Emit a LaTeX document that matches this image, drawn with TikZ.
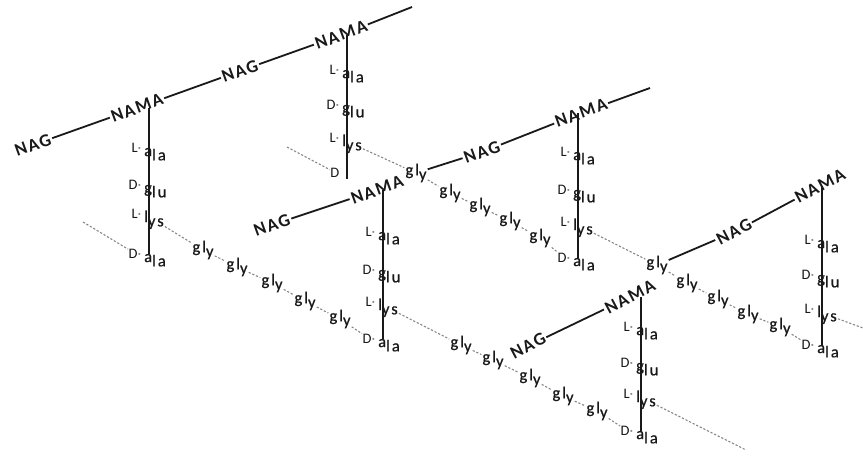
\documentclass[tikz,border=0pt]{standalone}
\usepackage{fontspec}
\setmainfont{Carlito}
\newfontfamily\sugarfam{Carlito}[LetterSpace=9]
\newfontfamily\resfam{Carlito}[LetterSpace=12, FakeBold=0.8]
\usepackage{tikz}
\definecolor{ink}{RGB}{25,25,25}
\definecolor{bridgegray}{RGB}{135,135,135}
\newcommand{\lowr}[1]{\raisebox{-0.55ex}{#1}}
\newcommand{\ala}{a\lowr{la}}
\newcommand{\glu}{g\lowr{lu}}
\newcommand{\lys}{l\lowr{ys}}
\newcommand{\gly}{gl\lowr{y}}
\newcommand{\mdot}{{\color{bridgegray}·}}
\tikzset{
  sugar/.style={font=\fontsize{18}{18}\sugarfam\bfseries, text=ink, inner sep=1.5pt},
  sugarab/.style={sugar, rotate=20},
  sugarc/.style={sugar, rotate=28},
  res/.style={font=\fontsize{16.5}{16.5}\resfam, text=ink, inner sep=1pt, anchor=base west},
  pre/.style={font=\fontsize{14.5}{14.5}\selectfont, text=ink, inner sep=0.5pt, anchor=base east},
  glyn/.style={font=\fontsize{16.5}{16.5}\resfam, text=ink, inner sep=1pt},
  glycan/.style={line width=1.8pt, ink},
  stemline/.style={line width=1.3pt, ink},
  bridge/.style={line width=1.1pt, bridgegray, dash pattern=on 2.2pt off 1.8pt}
}
% one residue of a stem: name, stem x, baseline, prefix, residue
\newcommand{\pep}[5]{%
  \node[pre] (#1p) at ({#2-7},{#3-4}) {#4\mdot};
  \node[res] (#1) at ({#2-6},{#3}) {#5};}

\begin{document}
\begin{tikzpicture}[x=1pt, y=-1pt]
\useasboundingbox (0,0) rectangle (863,458);

% glycan strands
\node[sugarab] (nagA1) at (33,145) {NAG};
\node[sugarab] (namaA1) at (137,108) {NAMA};
\node[sugarab] (nagA2) at (240,71) {NAG};
\node[sugarab] (namaA2) at (341,35) {NAMA};
\coordinate (endA) at (412,7);
\node[sugarab] (nagB1) at (272,225) {NAG};
\node[sugarab] (namaB1) at (377,190) {NAMA};
\node[sugarab] (nagB2) at (482,152) {NAG};
\node[sugarab] (namaB2) at (581,113) {NAMA};
\coordinate (endB) at (650,88);
\node[sugarc] (nagC1) at (528,346) {NAG};
\node[sugarc] (namaC1) at (630,297) {NAMA};
\node[sugarc] (nagC2) at (734,232) {NAG};
\node[sugarc] (namaC2) at (820,186) {NAMA};

% tetrapeptide stems
\pep{A1-1}{149}{156}{L}{\ala}
\pep{A1-2}{149}{193}{D}{\glu}
\pep{A1-3}{149}{222}{L}{\lys}
\pep{A1-4}{149}{262}{D}{\ala}
\coordinate (A1b) at (149,254);
\pep{A2-1}{347}{78}{L}{\ala}
\pep{A2-2}{347}{113}{D}{\glu}
\pep{A2-3}{347}{146}{L}{\lys}
\node[pre] (A2-4p) at (340,177) {D};
\coordinate (A2b) at (347,179);
\pep{B1-1}{383}{240}{L}{\ala}
\pep{B1-2}{383}{278}{D}{\glu}
\pep{B1-3}{383}{310}{L}{\lys}
\pep{B1-4}{383}{347}{D}{\ala}
\coordinate (B1b) at (383,339);
\pep{B2-1}{578}{160}{L}{\ala}
\pep{B2-2}{578}{198}{D}{\glu}
\pep{B2-3}{578}{230}{L}{\lys}
\pep{B2-4}{578}{266}{D}{\ala}
\coordinate (B2b) at (578,258);
\pep{C1-1}{641}{335}{L}{\ala}
\pep{C1-2}{641}{371}{D}{\glu}
\pep{C1-3}{641}{402}{L}{\lys}
\pep{C1-4}{641}{439}{D}{\ala}
\coordinate (C1b) at (641,431);
\pep{C2-1}{822}{248}{L}{\ala}
\pep{C2-2}{822}{283}{D}{\glu}
\pep{C2-3}{822}{317}{L}{\lys}
\pep{C2-4}{822}{353}{D}{\ala}
\coordinate (C2b) at (822,345);

% pentaglycine bridges
\node[glyn] (bA1-1) at (203,250) {\gly};
\node[glyn] (bA1-2) at (237,267) {\gly};
\node[glyn] (bA1-3) at (272,283) {\gly};
\node[glyn] (bA1-4) at (305,301) {\gly};
\node[glyn] (bA1-5) at (340,319) {\gly};
\node[glyn] (bA2-1) at (416,173) {\gly};
\node[glyn] (bA2-2) at (450,193) {\gly};
\node[glyn] (bA2-3) at (480,207) {\gly};
\node[glyn] (bA2-4) at (510,221) {\gly};
\node[glyn] (bA2-5) at (540,238) {\gly};
\node[glyn] (bB1-1) at (461,345) {\gly};
\node[glyn] (bB1-2) at (493,360) {\gly};
\node[glyn] (bB1-3) at (530,378) {\gly};
\node[glyn] (bB1-4) at (563,396) {\gly};
\node[glyn] (bB1-5) at (597,411) {\gly};
\node[glyn] (bB2-1) at (657,265) {\gly};
\node[glyn] (bB2-2) at (687,283) {\gly};
\node[glyn] (bB2-3) at (718,299) {\gly};
\node[glyn] (bB2-4) at (748,314) {\gly};
\node[glyn] (bB2-5) at (780,327) {\gly};
\coordinate (inA1) at (83,222);
\coordinate (inA2) at (287,147);
\coordinate (outC1) at (746,450);
\coordinate (outC2) at (863,328);

\draw[glycan] (nagA1) -- (namaA1) -- (nagA2) -- (namaA2) -- (endA);
\draw[glycan] (nagB1) -- (namaB1);
\draw[glycan] (bA2-1) -- (nagB2) -- (namaB2) -- (endB);
\draw[glycan] (nagC1) -- (namaC1);
\draw[glycan] (bB2-1) -- (nagC2) -- (namaC2);

\draw[stemline] (namaA1.center -| A1b) -- (A1b);
\draw[stemline] (namaA2.center -| A2b) -- (A2b);
\draw[stemline] (namaB1.center -| B1b) -- (B1b);
\draw[stemline] (namaB2.center -| B2b) -- (B2b);
\draw[stemline] (namaC1.center -| C1b) -- (C1b);
\draw[stemline] (namaC2.center -| C2b) -- (C2b);

\draw[bridge] (inA1) -- (A1-4p);
\draw[bridge] (inA2) -- (A2-4p);
\draw[bridge] (A1-3) -- (bA1-1) -- (bA1-2) -- (bA1-3) -- (bA1-4) -- (bA1-5) -- (B1-4p);
\draw[bridge] (A2-3) -- (bA2-1) -- (bA2-2) -- (bA2-3) -- (bA2-4) -- (bA2-5) -- (B2-4p);
\draw[bridge] (B1-3) -- (bB1-1) -- (bB1-2) -- (bB1-3) -- (bB1-4) -- (bB1-5) -- (C1-4p);
\draw[bridge] (B2-3) -- (bB2-1) -- (bB2-2) -- (bB2-3) -- (bB2-4) -- (bB2-5) -- (C2-4p);
\draw[bridge] (C1-3) -- (outC1);
\draw[bridge] (C2-3) -- (outC2);
\end{tikzpicture}
\end{document}
